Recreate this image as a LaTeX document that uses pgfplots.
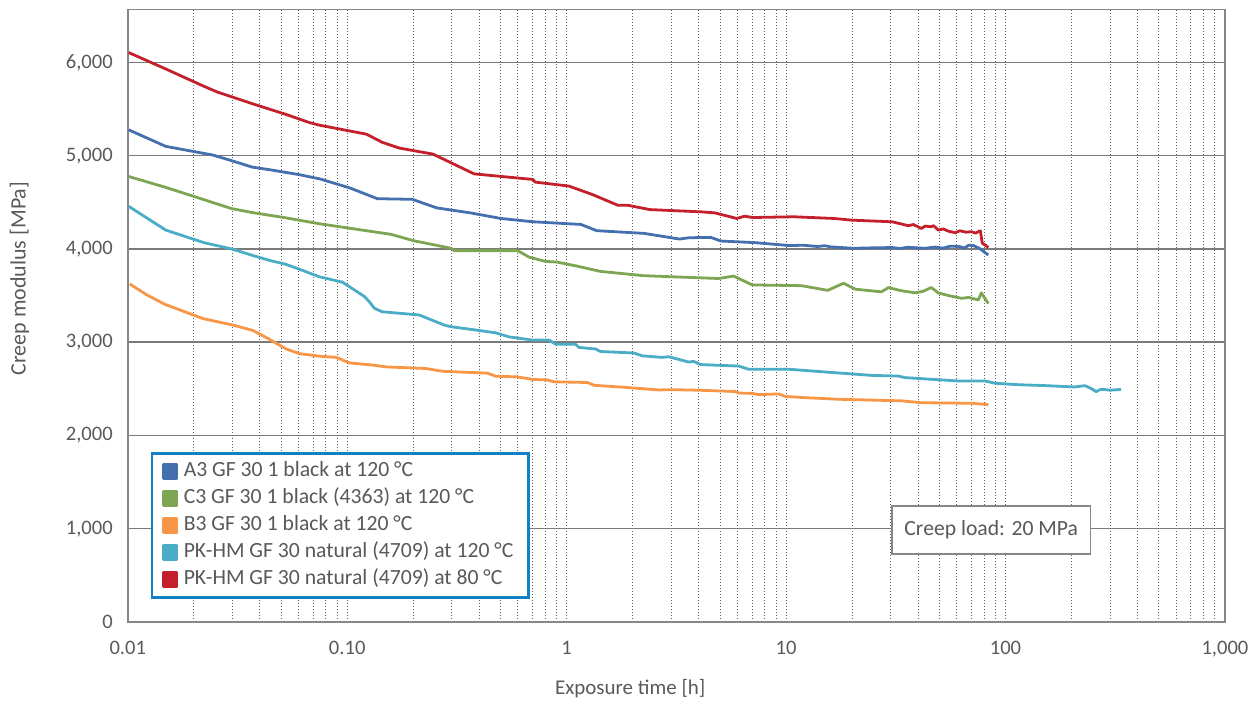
\documentclass[border=0pt]{standalone}
\usepackage{fontspec}
\setmainfont{Carlito}
\usepackage{pgfplots}
\pgfplotsset{compat=1.18}
\definecolor{cblue}{HTML}{4570B0}
\definecolor{cgreen}{HTML}{7EA553}
\definecolor{corange}{HTML}{F79646}
\definecolor{ccyan}{HTML}{4BACC6}
\definecolor{cred}{HTML}{C4202B}
\definecolor{txt}{HTML}{595959}
\definecolor{axgray}{HTML}{868686}
\definecolor{gridgray}{HTML}{7A7A7A}
\definecolor{legblue}{HTML}{1380C4}
\newcommand\fs{\fontsize{10.3}{12.4}\selectfont}
\newcommand\fl{\fontsize{10.85}{13}\selectfont}
\begin{document}
\begin{tikzpicture}
\begin{axis}[
 scale only axis, width=549.5pt, height=306.85pt,
 xmode=log, xmin=0.01, xmax=1000, ymin=0, ymax=6570,
 xtick={0.01,0.1,1,10,100,1000},
 xticklabels={0.01,0.10,1,10,100,{1,000}},
 minor xtick={0.02,0.03,0.04,0.05,0.06,0.07,0.08,0.09,0.1,0.2,0.3,0.4,0.5,0.6,0.7,0.8,0.9,1,2,3,4,5,6,7,8,9,10,20,30,40,50,60,70,80,90,100,200,300,400,500,600,700,800,900},
 ytick={0,1000,2000,3000,4000,5000,6000},
 yticklabels={0,{1,000},{2,000},{3,000},{4,000},{5,000},{6,000}},
 xminorgrids, ymajorgrids,
 major tick length=0pt, minor tick length=0pt,
 axis line style={axgray, line width=0.75pt},
 major grid style={gridgray, line width=0.75pt},
 minor grid style={black!62, line width=0.5pt, dash pattern=on 0.5pt off 1pt},
 tick label style={font=\fs, text=txt},
 xticklabel style={yshift=-6pt},
 yticklabel style={xshift=-4pt},
 xlabel={Exposure time [h]}, ylabel={Creep modulus [MPa]},
 every axis x label/.style={at={(axis description cs:0.458,-0.109)},anchor=center,font=\fontsize{10.5}{12.6}\selectfont,text=txt},
 every axis y label/.style={at={(axis description cs:-0.0987,0.5605)},rotate=90,anchor=center,font=\fontsize{11}{13.2}\selectfont,text=txt},
 legend style={at={(axis description cs:0.0209,0.277)}, anchor=north west, draw=legblue, line width=1.3pt, fill=white, font=\fl, text=txt, inner xsep=5pt, inner ysep=4.1pt, row sep=3.6pt, cells={anchor=west}, nodes={inner ysep=0pt, inner xsep=2.7pt, text height=7.3pt, text depth=2.6pt}},
 legend image code/.code={\fill[#1] (0pt,-3.4pt) rectangle (6.8pt,3.4pt);},
 every axis plot/.append style={line width=1.4pt, line join=round},
]
\addplot[cblue] coordinates {
(0.0101,5277) (0.0149,5100) (0.0244,5007) (0.0297,4947) (0.0370,4877) (0.0448,4848) (0.0600,4798) (0.0748,4752) (0.1023,4656) (0.1372,4539) (0.198,4532) (0.256,4440) (0.364,4387) (0.501,4327) (0.706,4291) (1.161,4263) (1.370,4196) (2.25,4167) (3.27,4106) (3.6,4120) (4.54,4124) (5.04,4085) (7.17,4068) (10.38,4036) (12.0,4040) (13.92,4026) (15.0,4035) (16.0,4022) (20.2,4007) (25,4012) (30.5,4015) (33,4005) (36,4018) (42.6,4007) (48,4020) (52,4008) (56,4030) (61.6,4026) (65,4010) (68,4040) (71.3,4036) (76.0,4007) (83.5,3935)};
\addlegendentry{A3 GF 30 1 black at 120 °C}
\addplot[cgreen] coordinates {
(0.0101,4777) (0.0149,4660) (0.0222,4529) (0.0297,4433) (0.0370,4390) (0.0524,4334) (0.0748,4270) (0.1172,4202) (0.159,4156) (0.200,4089) (0.298,4007) (0.307,3982) (0.598,3982) (0.674,3913) (0.798,3867) (0.904,3859) (1.114,3816) (1.428,3759) (2.25,3713) (4.93,3683) (5.77,3709) (7.02,3614) (11.78,3606) (15.47,3556) (18.29,3632) (20.7,3568) (27.2,3540) (29.3,3586) (33,3555) (38.8,3529) (42,3545) (45.9,3586) (49.4,3529) (55,3500) (63.0,3471) (68,3480) (75.2,3453) (77.6,3529) (83.5,3414)};
\addlegendentry{C3 GF 30 1 black (4363) at 120 °C}
\addplot[corange] coordinates {
(0.0102,3625) (0.01217,3510) (0.01473,3407) (0.02202,3253) (0.03015,3184) (0.03715,3126) (0.04424,3031) (0.05272,2927) (0.06064,2877) (0.0748,2850) (0.0891,2837) (0.1023,2778) (0.1306,2755) (0.1503,2735) (0.2285,2718) (0.2719,2688) (0.4356,2668) (0.4756,2635) (0.597,2628) (0.698,2601) (0.817,2595) (0.877,2575) (1.242,2568) (1.333,2538) (1.792,2518) (2.63,2488) (3.03,2491) (4.00,2485) (5.87,2471) (6.08,2455) (7.00,2451) (7.50,2438) (9.25,2445) (9.93,2418) (12.24,2405) (17.35,2388) (33.7,2371) (41.5,2351) (70.1,2345) (83.5,2331)};
\addlegendentry{B3 GF 30 1 black at 120 °C}
\addplot[ccyan] coordinates {
(0.0101,4457) (0.0149,4202) (0.0222,4068) (0.0297,4000) (0.0370,3931) (0.0448,3874) (0.0524,3836) (0.0600,3786) (0.0748,3701) (0.0951,3644) (0.1197,3491) (0.1262,3433) (0.1330,3364) (0.1445,3326) (0.2129,3292) (0.2766,3184) (0.2970,3166) (0.399,3126) (0.4756,3100) (0.547,3057) (0.698,3023) (0.832,3023) (0.892,2977) (1.099,2977) (1.138,2944) (1.356,2927) (1.428,2900) (2.027,2884) (2.21,2854) (2.72,2837) (2.92,2844) (3.60,2787) (3.80,2794) (4.08,2760) (6.08,2744) (6.76,2710) (10.28,2710) (17.35,2670) (24.6,2644) (32.5,2637) (34.9,2620) (61.0,2584) (80.7,2584) (89.6,2560) (114.3,2544) (150,2535) (207,2520) (230,2534) (245,2505) (259,2470) (270,2492) (279,2494) (300,2485) (336.5,2494)};
\addlegendentry{PK-HM GF 30 natural (4709) at 120 °C}
\addplot[cred] coordinates {
(0.0101,6106) (0.0149,5930) (0.0222,5745) (0.0257,5681) (0.0297,5632) (0.0370,5557) (0.0524,5444) (0.0673,5355) (0.0748,5327) (0.1223,5231) (0.1445,5143) (0.1727,5082) (0.2129,5043) (0.2454,5018) (0.3792,4805) (0.703,4745) (0.718,4717) (1.025,4674) (1.315,4582) (1.714,4468) (1.902,4468) (2.395,4422) (4.085,4398) (4.73,4387) (5.96,4327) (6.48,4351) (7.05,4337) (10.83,4345) (16.48,4327) (19.88,4309) (30.5,4291) (36.1,4249) (38,4262) (41.4,4220) (43,4245) (45.9,4238) (47,4250) (49.4,4202) (52,4215) (55,4190) (59.1,4174) (62,4195) (66,4180) (69.9,4185) (73,4170) (76.8,4195) (78.4,4061) (81,4040) (83.5,4015)};
\addlegendentry{PK-HM GF 30 natural (4709) at 80 °C}
\node[draw=axgray, line width=0.7pt, fill=white, minimum width=99.5pt, minimum height=24pt, font=\fl, text=txt] at (axis description cs:0.787,0.150) {Creep load: 20 MPa};
\end{axis}
\path (-64pt,-39pt) rectangle (563.5pt,311.5pt);
\end{tikzpicture}
\end{document}
